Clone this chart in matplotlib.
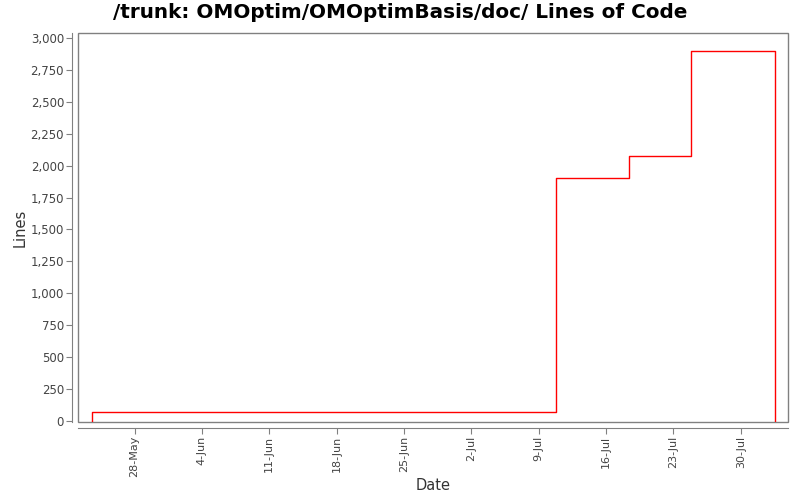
import matplotlib
matplotlib.use("Agg")
import matplotlib.pyplot as plt
import matplotlib.dates as mdates
from matplotlib.patches import Rectangle
from matplotlib.ticker import FuncFormatter, MultipleLocator
import pandas as pd

dates = pd.to_datetime(["2010-05-23 13:00", "2010-05-23 13:00", "2010-07-10 19:00",
                        "2010-07-18 10:00", "2010-07-24 19:00", "2010-08-02 14:00"])
lines = [0, 65, 1900, 2075, 2900, 0]
tick_dates = pd.date_range("2010-05-28", "2010-07-30", freq="7D")

fig = plt.figure(figsize=(8, 5), dpi=100)
ax = fig.add_axes([78/800, 1-422/500, 710/800, 389/500])
ax.plot(dates, lines, drawstyle="steps-post", color="#ff0000", lw=1)

ax.set_xlim(pd.Timestamp("2010-05-22 03:00"), pd.Timestamp("2010-08-03 22:00"))
ax.set_ylim(-10, 3040)
ax.yaxis.set_major_locator(MultipleLocator(250))
ax.yaxis.set_major_formatter(FuncFormatter(lambda v, p: f"{int(v):,}"))
ax.set_xticks(tick_dates)
ax.xaxis.set_major_formatter(mdates.DateFormatter("%-d-%b"))
ax.tick_params(axis="x", labelrotation=90, labelsize=8, pad=2)
ax.tick_params(axis="y", labelsize=8.5, pad=2)

gray = "#808080"
for s in ["top", "right"]:
    ax.spines[s].set_visible(False)
for s in ["left", "bottom"]:
    ax.spines[s].set_position(("outward", 4))
    ax.spines[s].set_color(gray)
ax.add_patch(Rectangle((0, 0), 1, 1, transform=ax.transAxes, fill=False,
                       edgecolor=gray, lw=1, clip_on=False))
ax.tick_params(axis="both", colors=gray, labelcolor="#444444", length=4)
fig.text(20/800, 1-228/500, "Lines", fontsize=10.5, color="#333333",
         rotation=90, ha="center", va="center")
fig.text(433/800, 1-485/500, "Date", fontsize=10.5, color="#333333",
         ha="center", va="center")
fig.suptitle("/trunk: OMOptim/OMOptimBasis/doc/ Lines of Code", fontsize=14.4,
             fontweight="bold", x=400/800, y=1-13/500, va="center")
fig.savefig("out.png", dpi=100)
